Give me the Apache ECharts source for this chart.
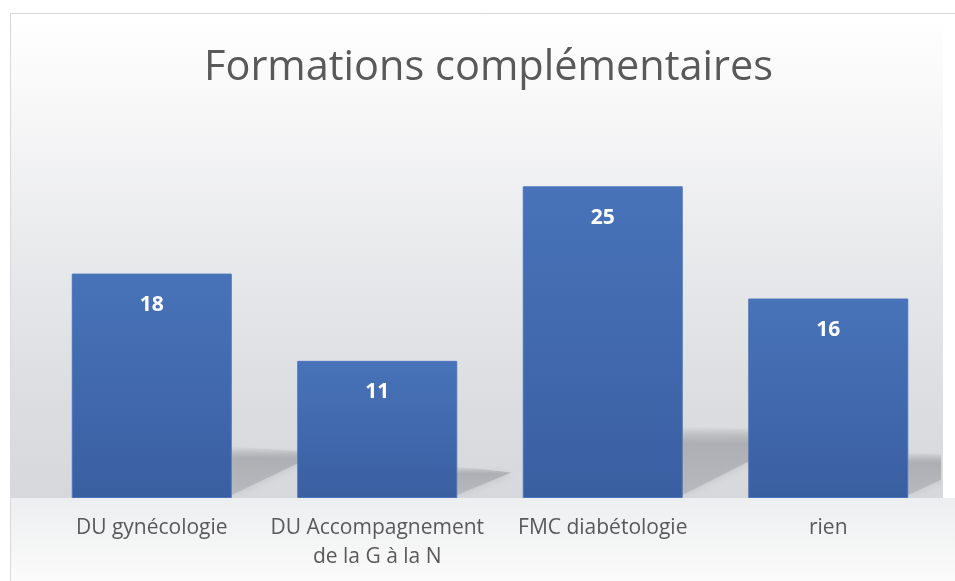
<!DOCTYPE html>
<html>
<head>
<meta charset="utf-8">
<script src="https://cdn.jsdelivr.net/npm/echarts/dist/echarts.min.js"></script>
<style>
  html, body { margin: 0; padding: 0; background: #fff; }
  #chart { width: 955px; height: 581px; }
</style>
</head>
<body>
<div id="chart"></div>
<script>
// donnees du graphique
var categories = ['DU gynécologie', 'DU Accompagnement\nde la G à la N', 'FMC diabétologie', 'rien'];
var valeurs = [18, 11, 25, 16];
var titre = 'Formations complémentaires';

var myChart = echarts.init(document.getElementById('chart'));

// ombre portee derriere chaque barre (triangle a droite, en bas)
function renderOmbre(params, api) {
  var i = api.value(0);
  var base = api.coord([i, 0]);
  var haut = api.coord([i, api.value(1)]);
  var demi = api.size([1, 0])[0] * 0.354;
  var xr = base[0] + demi;
  var h = (base[1] - haut[1]) * 0.23;
  var L = h / 0.58;
  return {
    type: 'polygon',
    shape: {
      points: [
        [xr, base[1] - 3],
        [xr, base[1] - h],
        [xr + L, base[1] - h + 6]
      ]
    },
    style: {
      fill: new echarts.graphic.LinearGradient(0, 0, 0, 1, [
        { offset: 0, color: 'rgba(172,173,178,0)' },
        { offset: 0.25, color: 'rgba(172,173,178,0.9)' },
        { offset: 1, color: 'rgba(180,181,186,0.8)' }
      ]),
      shadowBlur: 8,
      shadowColor: 'rgba(172,173,178,0.6)'
    }
  };
}

var option = {
  backgroundColor: '#ffffff',
  title: {
    text: titre,
    left: 199,
    top: 42,
    textStyle: {
      color: '#595959',
      fontFamily: 'Open Sans',
      fontWeight: 'normal',
      fontSize: 41.5
    }
  },
  graphic: [
    {   // cadre
      type: 'rect',
      z: -10,
      shape: { x: 10.5, y: 13.5, width: 960, height: 600 },
      style: { fill: '#ffffff', stroke: '#d9d9d9', lineWidth: 1 }
    },
    {   // mur
      type: 'rect',
      z: -9,
      shape: { x: 11, y: 14, width: 932, height: 484 },
      style: {
        fill: new echarts.graphic.LinearGradient(0, 0, 0, 1, [
          { offset: 0, color: '#ffffff' },
          { offset: 0.2, color: '#f7f7f8' },
          { offset: 0.5, color: '#e8e9eb' },
          { offset: 0.8, color: '#dcdde0' },
          { offset: 1, color: '#d7d8db' }
        ])
      }
    },
    {   // sol
      type: 'rect',
      z: -9,
      shape: { x: 11, y: 498, width: 944, height: 83 },
      style: {
        fill: new echarts.graphic.LinearGradient(0, 0, 0, 1, [
          { offset: 0, color: '#edeef0' },
          { offset: 1, color: '#fbfbfb' }
        ])
      }
    }
  ],
  grid: {
    left: 39,
    right: 14,
    top: 124,
    bottom: 83
  },
  xAxis: {
    type: 'category',
    data: categories,
    axisLine: { show: false },
    axisTick: { show: false },
    axisLabel: {
      interval: 0,
      margin: 16,
      color: '#595959',
      fontFamily: 'Open Sans',
      fontSize: 21,
      lineHeight: 29
    }
  },
  yAxis: {
    type: 'value',
    min: 0,
    max: 30,
    show: false,
    splitLine: { show: false }
  },
  series: [
    {
      type: 'custom',
      z: 1,
      silent: true,
      clip: true,
      renderItem: renderOmbre,
      data: valeurs.map(function (v, i) { return [i, v]; })
    },
    {
      type: 'bar',
      z: 3,
      data: valeurs,
      barWidth: 160,
      itemStyle: {
        color: new echarts.graphic.LinearGradient(0, 0, 0, 1, [
          { offset: 0, color: '#4873b9' },
          { offset: 1, color: '#3a5fa1' }
        ]),
        borderColor: '#4a75bd',
        borderWidth: 1
      },
      label: {
        show: true,
        position: 'insideTop',
        distance: 21,
        color: '#ffffff',
        fontFamily: 'Open Sans',
        fontWeight: 'bold',
        fontSize: 21
      }
    }
  ]
};

myChart.setOption(option);
</script>
</body>
</html>
